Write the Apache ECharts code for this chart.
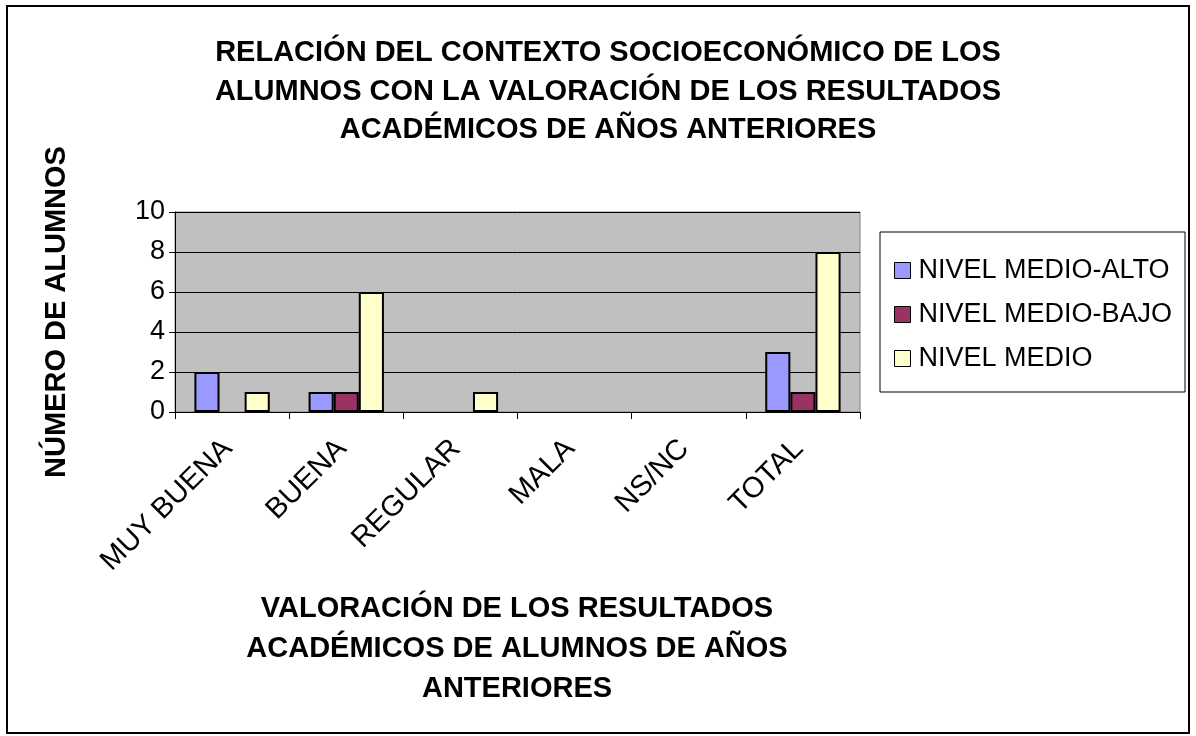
<!DOCTYPE html>
<html><head><meta charset="utf-8">
<script src="https://cdn.jsdelivr.net/npm/echarts@6/dist/echarts.min.js"></script>
<style>html,body{margin:0;padding:0;background:#fff}#c{width:1196px;height:736px}</style>
</head><body><div id="c"></div>
<script>
const categories = ['MUY BUENA','BUENA','REGULAR','MALA','NS/NC','TOTAL'];
const seriesNames = ['NIVEL MEDIO-ALTO','NIVEL MEDIO-BAJO','NIVEL MEDIO'];
const medioAlto = [2,1,0,0,0,3];
const medioBajo = [0,1,0,0,0,1];
const medio = [1,6,1,0,0,8];
const yTicks = [0,2,4,6,8,10];
const colors = ['#9999ff','#993366','#ffffcc'];
const FONT = '"Liberation Sans", Arial, sans-serif';

const chart = echarts.init(document.getElementById('c'));
const vals = [medioAlto, medioBajo, medio];
chart.setOption({
  animation:false,
  title:{text:'RELACIÓN DEL CONTEXTO SOCIOECONÓMICO DE LOS\nALUMNOS CON LA VALORACIÓN DE LOS RESULTADOS\nACADÉMICOS DE AÑOS ANTERIORES',
    left:603, top:29, textAlign:'center',
    textStyle:{fontFamily:FONT,fontWeight:'bold',fontSize:29,lineHeight:38.5,color:'#000'}},
  graphic:[
    {type:'rect',shape:{x:7,y:6,width:1182,height:727},style:{fill:'none',stroke:'#000',lineWidth:2},z:-1},
    {type:'rect',shape:{x:880,y:232,width:305,height:160},style:{fill:'#fff',stroke:'#000',lineWidth:1},z:0},
    {type:'text',style:{text:'VALORACIÓN DE LOS RESULTADOS\nACADÉMICOS DE ALUMNOS DE AÑOS\nANTERIORES',
      font:'bold 29px '+FONT,lineHeight:40,align:'center',verticalAlign:'top',fill:'#000',x:517,y:589}}
  ],
  legend:{orient:'vertical',left:889,top:252,itemWidth:16,itemHeight:16,itemGap:17,
    icon:'rect',
    itemStyle:{borderColor:'#000',borderWidth:1},
    textStyle:{fontFamily:FONT,fontSize:27,lineHeight:27,color:'#000',padding:[0,0,0,3]},
    data:seriesNames},
  grid:{left:175,top:212,width:685,height:200,show:true,backgroundColor:'#c0c0c0',borderColor:'#808080',borderWidth:1},
  xAxis:{type:'category',data:categories,
    axisLine:{lineStyle:{color:'#000',width:1}},
    axisTick:{show:true,length:7,lineStyle:{color:'#000'}},
    axisLabel:{rotate:45,fontFamily:FONT,fontSize:29,color:'#000',margin:28,interval:0,padding:[0,6,0,0]}},
  yAxis:{type:'value',min:0,max:10,interval:2,
    name:'NÚMERO DE ALUMNOS',nameLocation:'middle',nameGap:104,nameRotate:90,
    nameTextStyle:{fontFamily:FONT,fontWeight:'bold',fontSize:29,color:'#000'},
    axisLine:{show:true,lineStyle:{color:'#000'}},
    axisTick:{show:true,length:6,lineStyle:{color:'#000'}},
    axisLabel:{fontFamily:FONT,fontSize:27,color:'#000',margin:10,formatter:v=>yTicks.includes(v)?String(v):''},
    splitLine:{lineStyle:{color:'#000',width:1}}},
  series:seriesNames.map((n,i)=>({name:n,type:'bar',data:vals[i].map(v=>v===0?null:v),barGap:'0%',barCategoryGap:'34%',
    itemStyle:{color:colors[i],borderColor:'#000',borderWidth:2}}))
});
</script></body></html>
